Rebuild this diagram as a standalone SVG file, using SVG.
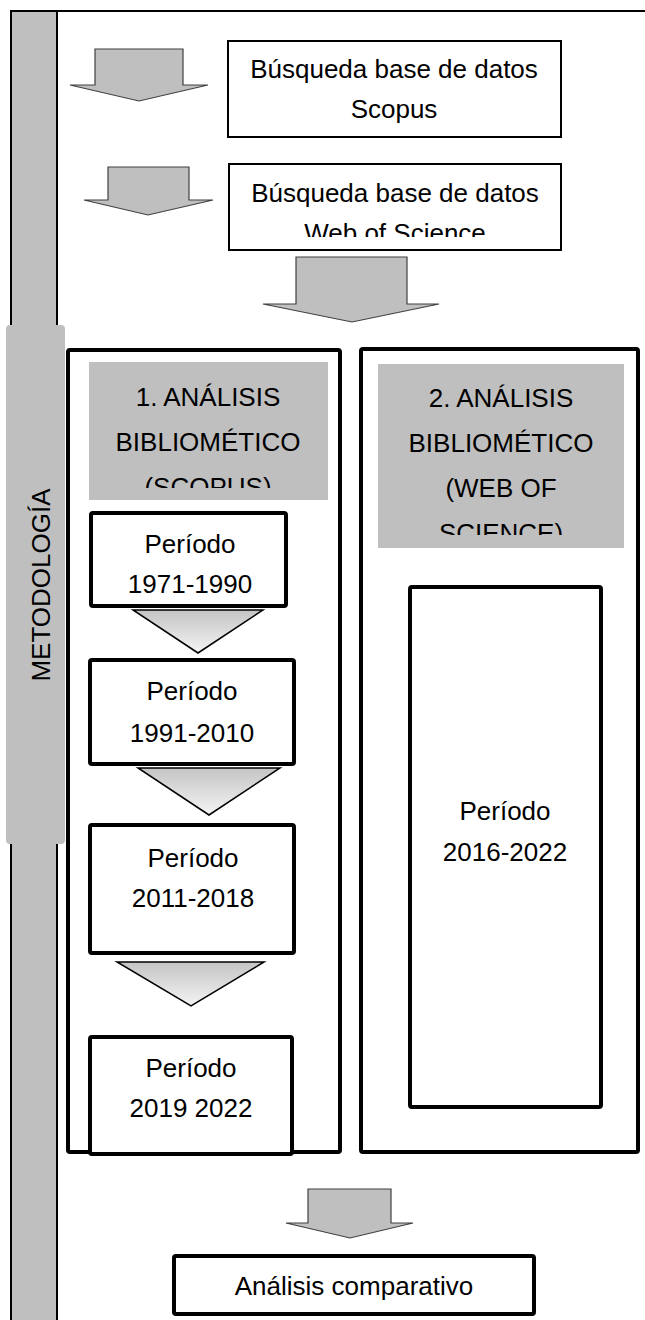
<svg xmlns="http://www.w3.org/2000/svg" width="645" height="1320" viewBox="0 0 645 1320">
  <style>
    .t { font-family: "Liberation Sans", Arial, sans-serif; font-size: 26px; fill: #000; text-anchor: middle; }
    .box { fill: #fff; stroke: #000; stroke-width: 2; }
    .thick { fill: #fff; stroke: #000; stroke-width: 4; }
    .gray { fill: #bfbfbf; }
    .arrow { fill: #bfbfbf; stroke: #404040; stroke-width: 1.2; stroke-linejoin: miter; }
    .chev { fill: url(#chevGrad); stroke: #000; stroke-width: 1.5; }
  </style>
  <defs>
    <linearGradient id="chevGrad" x1="0" y1="0" x2="0" y2="1">
      <stop offset="0" stop-color="#c4c4c4"/>
      <stop offset="1" stop-color="#f4f4f4"/>
    </linearGradient>
    <clipPath id="clipWos"><rect x="229" y="164" width="332" height="73"/></clipPath>
    <clipPath id="clipH1"><rect x="89" y="362" width="239" height="126"/></clipPath>
    <clipPath id="clipH2"><rect x="378" y="364" width="246" height="171"/></clipPath>
  </defs>
  <rect x="0" y="0" width="645" height="1320" fill="#fff"/>

  <g id="frame">
    <rect x="11" y="11" width="46" height="1320" fill="#bfbfbf" stroke="#000" stroke-width="2"/>
    <line x1="10" y1="11" x2="645" y2="11" stroke="#000" stroke-width="2"/>
  </g>

  <g id="metodologia">
    <rect x="6" y="325" width="59" height="519" rx="4" class="gray"/>
    <text class="t" transform="translate(50,585) rotate(-90)">METODOLOGÍA</text>
  </g>

  <g id="scopus-search">
    <rect class="box" x="228" y="41" width="333" height="96"/>
    <text class="t" x="394" y="78">Búsqueda base de datos</text>
    <text class="t" x="394" y="118">Scopus</text>
  </g>

  <g id="wos-search">
    <rect class="box" x="229" y="164" width="332" height="86"/>
    <text class="t" x="395" y="202">Búsqueda base de datos</text>
    <text class="t" x="395" y="242" clip-path="url(#clipWos)">Web of Science</text>
  </g>

  <g id="panel-scopus">
    <rect class="thick" x="68" y="350" width="272" height="802" rx="2"/>
    <rect class="gray" x="89" y="362" width="239" height="138"/>
    <g clip-path="url(#clipH1)">
      <text class="t" x="208" y="406">1. ANÁLISIS</text>
      <text class="t" x="208" y="451">BIBLIOMÉTICO</text>
      <text class="t" x="208" y="496">(SCOPUS)</text>
    </g>
  </g>

  <g id="panel-wos">
    <rect class="thick" x="361" y="349" width="277" height="803" rx="2"/>
    <rect class="gray" x="378" y="364" width="246" height="184"/>
    <g clip-path="url(#clipH2)">
      <text class="t" x="501" y="407">2. ANÁLISIS</text>
      <text class="t" x="501" y="452">BIBLIOMÉTICO</text>
      <text class="t" x="501" y="497">(WEB OF</text>
      <text class="t" x="501" y="542">SCIENCE)</text>
    </g>
  </g>

  <g id="period-1971-1990">
    <rect class="thick" x="91" y="513" width="195" height="93" rx="2"/>
    <text class="t" x="190" y="553">Período</text>
    <text class="t" x="190" y="593">1971-1990</text>
  </g>

  <g id="period-1991-2010">
    <rect class="thick" x="90" y="660" width="204" height="104" rx="2"/>
    <text class="t" x="192" y="700">Período</text>
    <text class="t" x="192" y="742">1991-2010</text>
  </g>

  <g id="period-2011-2018">
    <rect class="thick" x="90" y="825" width="204" height="128" rx="2"/>
    <text class="t" x="193" y="867">Período</text>
    <text class="t" x="193" y="907">2011-2018</text>
  </g>

  <g id="period-2019-2022">
    <rect class="thick" x="90" y="1037" width="202" height="117" rx="2"/>
    <text class="t" x="191" y="1077">Período</text>
    <text class="t" x="191" y="1117">2019 2022</text>
  </g>

  <g id="period-2016-2022">
    <rect class="thick" x="410" y="587" width="191" height="520" rx="2"/>
    <text class="t" x="505" y="820">Período</text>
    <text class="t" x="505" y="861">2016-2022</text>
  </g>

  <g id="comparativo">
    <rect class="thick" x="174" y="1256" width="360" height="58" rx="2"/>
    <text class="t" x="354" y="1295">Análisis comparativo</text>
  </g>

  <g id="connectors">
    <polygon class="arrow" points="95,49 183,49 183,85 208,85 139,101 70,85 95,85"/>
    <polygon class="arrow" points="108,167 189,167 189,200 213,200 148,215 84,200 108,200"/>
    <polygon class="arrow" points="296,257 407,257 407,304 439,304 352,322 263,304 296,304"/>
    <polygon class="chev" points="133,610 263,610 198,653"/>
    <polygon class="chev" points="138,768 280,768 209,815"/>
    <polygon class="chev" points="117,962 264,962 191,1006"/>
    <polygon class="arrow" points="308,1189 391,1189 391,1223 413,1223 350,1238 286,1223 308,1223"/>
  </g>
</svg>
